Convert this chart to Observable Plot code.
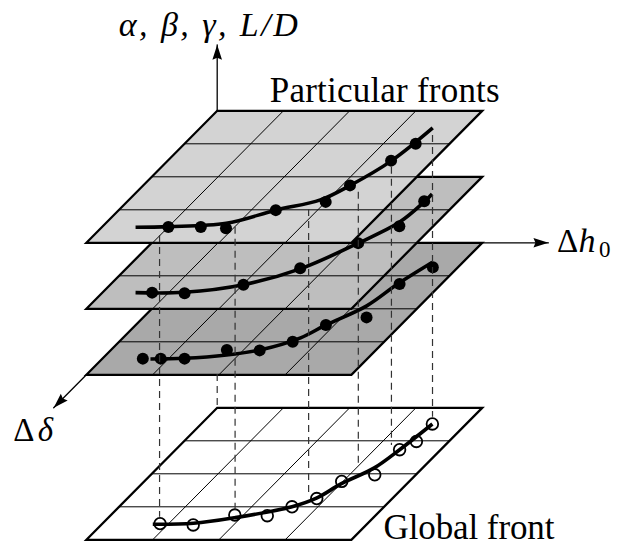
<!DOCTYPE html>
<html><head><meta charset="utf-8">
<script src="https://cdn.jsdelivr.net/npm/d3@7"></script>
<script src="https://cdn.jsdelivr.net/npm/@observablehq/plot@0.6"></script>
<style>body{margin:0;background:#fff}</style>
</head><body><div id="chart"></div>
<script>
// ---- data (u = Δh0 grid units, v = Δδ grid units) ----
const gridCells = 4;
const particularLevels = [2, 1, 0];        // top, middle, bottom particular fronts
const globalLevel = -2.5;                  // global front
const planeFills = ["#d3d3d3", "#bebebe", "#a9a9a9"];

const topFrontCurve = [[0.51,3.53],[1.00,3.51],[1.82,3.41],[2.37,3.01],[2.89,2.70],[3.12,2.27],[3.38,1.51],[3.51,0.52]];
const topFrontDots = [[1.00,3.52],[1.49,3.52],[1.89,3.56],[2.37,3.01],[3.00,2.76],[3.12,2.26],[3.37,1.51],[3.49,1.00]];

const middleFrontCurve = [[0.50,3.51],[1.23,3.50],[2.01,3.27],[2.63,2.79],[3.12,2.01],[3.43,1.38],[3.50,0.75],[3.50,0.52]];
const middleFrontDots = [[0.75,3.51],[1.25,3.53],[2.01,3.27],[2.62,2.77],[3.12,2.01],[3.49,1.50],[3.49,0.74]];

const bottomFrontCurve = [[0.73,3.52],[1.23,3.50],[1.82,3.40],[2.26,3.24],[2.68,2.88],[2.87,2.49],[3.20,1.91],[3.34,1.25],[3.54,0.59]];
const bottomFrontDots = [[0.61,3.51],[0.88,3.51],[1.24,3.51],[1.75,3.25],[2.25,3.26],[2.62,3.00],[2.87,2.49],[3.37,2.26],[3.37,1.25],[3.62,0.74]];

const globalFrontCurve = [[0.77,3.53],[1.37,3.50],[1.91,3.33],[2.61,3.00],[2.85,2.74],[3.01,2.30],[3.27,1.82],[3.38,1.27],[3.49,0.49]];
const globalFrontCircles = [[0.87,3.51],[1.39,3.55],[1.87,3.25],[2.37,3.27],[2.61,3.00],[2.86,2.75],[2.98,2.23],[3.38,2.03],[3.38,1.27],[3.51,1.02],[3.49,0.49]];

// projection lines (screen-projected x, top y, bottom y)
const dropX      = [-0.87, 0.00, 0.27, 1.38, 2.13, 2.63, 3.25];
const dropTop    = [ 0.22, -3.99, 0.47, 1.01, 1.53, 2.29, 3.25];
const dropBottom = [-8.32, -5.00, -8.11, -7.66, -6.80, -6.14, -5.29];

const axisEnds = {vertical: 3, dh0: 5, dd: 5};
const labels = {vertical: "α, β, γ, L/D", particular: "Particular fronts", global: "Global front"};

// ---- oblique projection ----
const SHEAR = 0.4936;
const proj = ([u, v], z) => ({x: u - SHEAR * v, y: 2 * z - v});

const arrowHead = {draw(ctx) { ctx.moveTo(0, 0); ctx.lineTo(-4.8, 15); ctx.lineTo(0, 13); ctx.lineTo(4.8, 15); ctx.closePath(); }};

function planeMarks(z, fill, curve, pts, open) {
  const corners = [[0,0],[gridCells,0],[gridCells,gridCells],[0,gridCells]].map(p => proj(p, z));
  const grid = [];
  for (let i = 1; i < gridCells; i++) {
    grid.push({a: proj([i,0], z), b: proj([i,gridCells], z)});
    grid.push({a: proj([0,i], z), b: proj([gridCells,i], z)});
  }
  const cur = curve.map(p => proj(p, z));
  const dots = pts.map(p => proj(p, z));
  return [
    Plot.line(corners, {x: "x", y: "y", fill, stroke: "black", strokeWidth: 2.3, curve: "linear-closed", strokeLinejoin: "miter", strokeMiterlimit: 4}),
    Plot.link(grid, {x1: d => d.a.x, y1: d => d.a.y, x2: d => d.b.x, y2: d => d.b.y, stroke: "black", strokeWidth: 1}),
    Plot.line(cur, {x: "x", y: "y", stroke: "black", strokeWidth: 3.6, curve: "catmull-rom", strokeLinecap: "butt"}),
    open
      ? Plot.dot(dots, {x: "x", y: "y", r: 5.8, stroke: "black", strokeWidth: 1.8, fill: "none"})
      : Plot.dot(dots, {x: "x", y: "y", r: 6, fill: "black", stroke: "none"})
  ];
}

const origin = [0, 0];
const axisLines = {
  dh0: [proj([gridCells, 0], 0), proj([axisEnds.dh0, 0], 0)],
  dd: [proj([0, gridCells], 0), proj([0, axisEnds.dd], 0)],
  vert: [proj(origin, particularLevels[0]), proj(origin, axisEnds.vertical)]
};
const heads = [
  {...axisLines.dh0[1], rot: 90},
  {...axisLines.dd[1], rot: 180 + Math.atan2(32.7, 33) * 180 / Math.PI},
  {...axisLines.vert[1], rot: 0}
];

const drops = dropX.map((x, i) => ({x, y1: dropTop[i], y2: dropBottom[i]}));
const serif = "Liberation Serif, Times New Roman, serif";

const topCorner = proj([gridCells, 0], particularLevels[0]);
const globalCorner = proj([gridCells, gridCells], globalLevel);

const marks = [
  ...planeMarks(globalLevel, "white", globalFrontCurve, globalFrontCircles, true),
  Plot.line(axisLines.dh0, {x: "x", y: "y", stroke: "black", strokeWidth: 1.3}),
  Plot.line(axisLines.dd, {x: "x", y: "y", stroke: "black", strokeWidth: 1.3}),
  Plot.dot(heads.slice(0, 2), {x: "x", y: "y", symbol: arrowHead, rotate: "rot", r: 5, fill: "black", stroke: "none"}),
  ...planeMarks(particularLevels[2], planeFills[2], bottomFrontCurve, bottomFrontDots, false),
  ...planeMarks(particularLevels[1], planeFills[1], middleFrontCurve, middleFrontDots, false),
  ...planeMarks(particularLevels[0], planeFills[0], topFrontCurve, topFrontDots, false),
  Plot.line(axisLines.vert, {x: "x", y: "y", stroke: "black", strokeWidth: 1.3}),
  Plot.dot(heads.slice(2), {x: "x", y: "y", symbol: arrowHead, rotate: "rot", r: 5, fill: "black", stroke: "none"}),
  Plot.ruleX(drops, {x: "x", y1: "y1", y2: "y2", stroke: "#333", strokeWidth: 1.2, strokeDasharray: "7,5"}),
  // labels
  Plot.text([axisLines.vert[1]], {x: "x", y: "y", text: () => labels.vertical, dx: -9, dy: -9.3, lineAnchor: "bottom", fontSize: 34, fontStyle: "italic", fontFamily: serif, fill: "black"}),
  Plot.text([topCorner], {x: "x", y: "y", text: () => labels.particular, dx: -97.5, dy: -8.6, lineAnchor: "bottom", fontSize: 35, fontFamily: serif, fill: "black"}),
  Plot.text([globalCorner], {x: "x", y: "y", text: () => labels.global, dx: 117.6, dy: -1, lineAnchor: "bottom", fontSize: 35, fontFamily: serif, fill: "black"}),
  Plot.text([axisLines.dh0[1]], {x: "x", y: "y", text: () => "Δ", dx: 8.5, dy: 9.4, textAnchor: "start", lineAnchor: "bottom", fontSize: 33, fontFamily: serif, fill: "black"}),
  Plot.text([axisLines.dh0[1]], {x: "x", y: "y", text: () => "h", dx: 30, dy: 9.4, textAnchor: "start", lineAnchor: "bottom", fontSize: 34, fontStyle: "italic", fontFamily: serif, fill: "black"}),
  Plot.text([axisLines.dh0[1]], {x: "x", y: "y", text: () => "0", dx: 50.5, dy: 14, textAnchor: "start", lineAnchor: "bottom", fontSize: 23, fontFamily: serif, fill: "black"}),
  Plot.text([axisLines.dd[1]], {x: "x", y: "y", text: () => "Δ", dx: -40.5, dy: 33.2, textAnchor: "start", lineAnchor: "bottom", fontSize: 33, fontFamily: serif, fill: "black"}),
  Plot.text([axisLines.dd[1]], {x: "x", y: "y", text: () => "δ", dx: -16, dy: 33.2, textAnchor: "start", lineAnchor: "bottom", fontSize: 33, fontStyle: "italic", fontFamily: serif, fill: "black"})
];

const chart = Plot.plot({
  width: 618, height: 548, margin: 0,
  x: {domain: [-216.7 / 66.25, (618 - 216.7) / 66.25], range: [0, 618], axis: null},
  y: {domain: [-(548 - 242.3) / 33, 242.3 / 33], range: [548, 0], axis: null},
  style: {background: "white", overflow: "visible"},
  marks
});
const fit = new Map([[labels.vertical, 179], [labels.particular, 230], [labels.global, 171]]);
d3.select(chart).selectAll("text").each(function() {
  const w = fit.get(this.textContent);
  if (w) d3.select(this).attr("textLength", w).attr("lengthAdjust", "spacing");
});
document.getElementById("chart").appendChild(chart);
</script>
</body></html>
